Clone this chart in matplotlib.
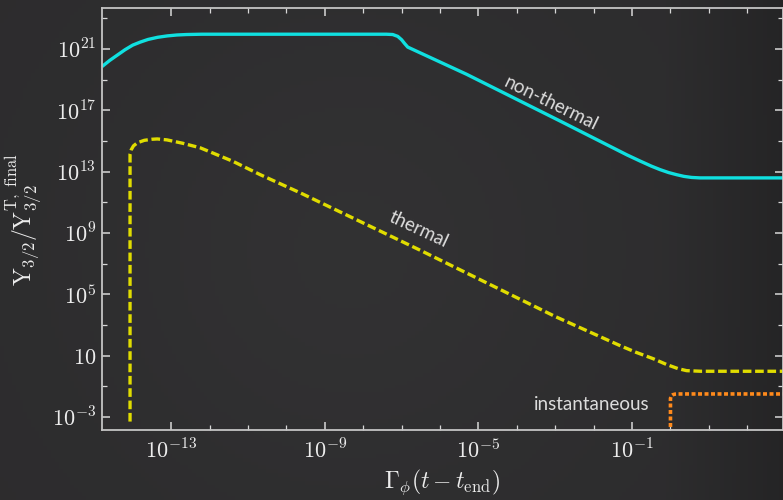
import numpy as np
import matplotlib
matplotlib.use("Agg")
import matplotlib.pyplot as plt

plt.rcParams["mathtext.fontset"] = "cm"

# Kurven (log10 x, log10 y)
nt_logx = [-14.8, -14.6, -14.4, -14.2, -14.0, -13.8, -13.6, -13.35, -13.1, -12.85, -12.6,
           -12.2, -7.4, -7.23, -7.1, -7.0, -6.92, -6.84, -5.31, -2.875, -1.14, -0.8,
           -0.5, -0.27, -0.05, 0.16, 0.35, 0.55, 0.77, 3.0]
nt_logy = [19.85, 20.25, 20.6, 20.95, 21.25, 21.45, 21.62, 21.76, 21.85, 21.91, 21.94,
           21.96, 21.96, 21.94, 21.82, 21.6, 21.35, 21.12, 19.35, 16.3, 14.1, 13.7,
           13.36, 13.13, 12.94, 12.8, 12.69, 12.62, 12.59, 12.59]

th_logx = [-14.07, -14.07, -14.04, -13.98, -13.88, -13.7, -13.5, -13.36, -13.11, -12.7,
           -12.24, -11.39, -10.68, -9.65, -6.53, -3.0, -1.31, -0.9, -0.45, -0.1, 0.2,
           0.42, 0.8, 3.0]
th_logy = [-3.3, 14.15, 14.42, 14.68, 14.88, 15.04, 15.11, 15.13, 15.07, 14.85,
           14.55, 13.67, 12.8, 11.63, 7.89, 3.55, 1.65, 1.22, 0.8, 0.42, 0.15,
           0.02, -0.02, -0.02]

inst_logx = [0.0, 0.0, 0.02, 0.06, 0.12, 0.2, 3.0]
inst_logy = [-4.5, -1.8, -1.62, -1.55, -1.51, -1.5, -1.5]

# Achsen
x_major = [-13, -9, -5, -1]
x_labels = [r"$10^{-13}$", r"$10^{-9}$", r"$10^{-5}$", r"$10^{-1}$"]
x_minor = [-12, -11, -10, -8, -7, -6, -4, -3, -2, 0, 1, 2]
y_major = [-3, 1, 5, 9, 13, 17, 21]
y_labels = [r"$10^{-3}$", r"$10$", r"$10^{5}$", r"$10^{9}$", r"$10^{13}$",
            r"$10^{17}$", r"$10^{21}$"]
y_minor = [-1, 3, 7, 11, 15, 19, 23]

fig = plt.figure(figsize=(7.83, 5.0), dpi=100)
fig.patch.set_facecolor("#2b2b2b")

# Tafel-Hintergrund (weicher Verlauf)
bg = fig.add_axes([0, 0, 1, 1], zorder=-5)
gx, gy = np.meshgrid(np.linspace(0, 1, 200), np.linspace(0, 1, 130))
hell = 0.175 + 0.02 * np.exp(-((gx - 0.45) ** 2 / 0.12 + (gy - 0.5) ** 2 / 0.3))
hell = hell - 0.03 * np.clip((gx - 0.85) / 0.15, 0, 1)
rgb = np.dstack([hell * 1.0, hell * 0.99, hell * 1.02])
bg.imshow(np.clip(rgb, 0, 1), aspect="auto", extent=[0, 1, 0, 1])
bg.axis("off")

ax = fig.add_axes([102 / 783, 1 - 430 / 500, 681 / 783, 422 / 500])
ax.patch.set_alpha(0)

ax.plot(10 ** np.array(nt_logx), 10 ** np.array(nt_logy), color="#10e0e0",
        lw=2.4, solid_capstyle="butt", solid_joinstyle="round")
ax.plot(10 ** np.array(th_logx), 10 ** np.array(th_logy), color="#e0dc00",
        lw=2.4, dashes=(2.6, 1.1))
ax.plot(10 ** np.array(inst_logx), 10 ** np.array(inst_logy), color="#ff8a1c",
        lw=2.6, dashes=(1.1, 0.7))

ax.set_xscale("log")
ax.set_yscale("log")
ax.set_xlim(10 ** -14.8, 10 ** 2.93)
ax.set_ylim(10 ** -3.85, 10 ** 23.67)

ax.set_xticks([10.0 ** v for v in x_major])
ax.set_xticklabels(x_labels)
ax.set_xticks([10.0 ** v for v in x_minor], minor=True)
ax.set_xticklabels([], minor=True)
ax.set_yticks([10.0 ** v for v in y_major])
ax.set_yticklabels(y_labels)
ax.set_yticks([10.0 ** v for v in y_minor], minor=True)
ax.set_yticklabels([], minor=True)

for s in ax.spines.values():
    s.set_color("#c4c4c4")
    s.set_linewidth(1.3)

ax.tick_params(which="both", direction="in", top=True, right=True,
               colors="#d8d8d8", labelcolor="#ececec", labelsize=16)
ax.tick_params(which="major", length=6, width=1.1)
ax.tick_params(which="minor", length=3.5, width=0.9)
ax.tick_params(axis="x", pad=6)
ax.tick_params(axis="y", pad=4)

ax.set_xlabel(r"$\Gamma_\phi(t-t_{\rm end})$", fontsize=17, color="#ececec",
              labelpad=4)
ax.set_ylabel(r"$\mathrm{Y}_{3/2}/\mathrm{Y}^{\mathrm{T,\ final}}_{3/2}$",
              fontsize=17, color="#ececec", labelpad=6)

# Beschriftungen der Kurven
schrift = dict(family=["Lato", "DejaVu Sans"], fontweight="normal",
               color="#dcdcdc", fontsize=13.5, ha="center", va="center")
ax.text(10 ** -3.1, 10 ** 17.45, "non-thermal", rotation=-26, **schrift)
ax.text(10 ** -6.55, 10 ** 9.2, "thermal", rotation=-25, **schrift)
ax.text(10 ** -2.05, 10 ** -2.2, "instantaneous", rotation=0, **schrift)

fig.savefig("out.png", dpi=100, facecolor=fig.get_facecolor())
